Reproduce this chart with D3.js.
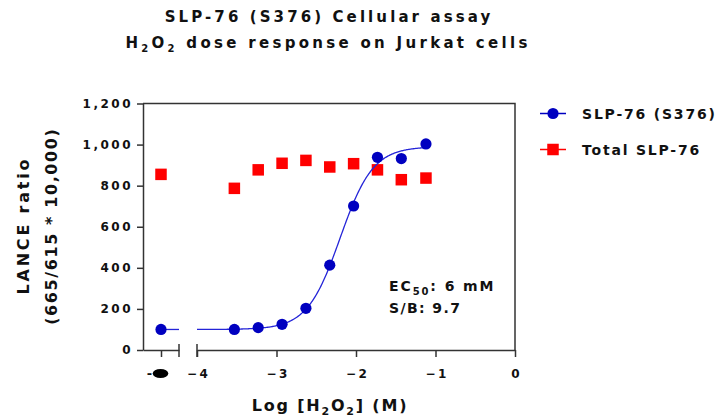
<!DOCTYPE html>
<html><head><meta charset="utf-8">
<script src="https://cdn.jsdelivr.net/npm/d3@7"></script>
<style>
body{margin:0;background:#fff}
svg text{font-family:"DejaVu Sans",Verdana,sans-serif;font-weight:bold;fill:#111}
</style></head><body>
<svg id="c" width="719" height="419"></svg>
<script>
// ---- data ----
const logDose = [-3.53, -3.23, -2.93, -2.63, -2.33, -2.03, -1.73, -1.43, -1.12];
const phospho = [100, 109, 125, 203, 413, 701, 938, 932, 1003];
const total   = [787, 877, 909, 923, 891, 907, 877, 829, 837];
const controlPhospho = 100;
const controlTotal = 855;
const yTicks = [0, 200, 400, 600, 800, 1000, 1200];
const xTicks = [-4, -3, -2, -1, 0];
const fit = {bottom: 100, top: 990, logEC50: -2.2, hill: 2.1};
const seriesNames = ["SLP-76 (S376)", "Total SLP-76"];

const BLUE = "#0000c0", CURVE = "#2424d8", RED = "#ff0000", AX = "#333";
const FONT = '"DejaVu Sans",Verdana,sans-serif';

const svg = d3.select("#c");
const y = d3.scaleLinear().domain([0, 1200]).range([350, 103.5]);
const x = d3.scaleLinear().domain([-4, 0]).range([197, 515]);
const xc = d3.scalePoint().domain(["ctrl"]).range([143, 179]).padding(0.5);

function rich(sel, parts, subSize, subDy) {
  let shifted = false;
  parts.forEach(p => {
    const isSub = typeof p === "object";
    const t = sel.append("tspan").text(isSub ? p.sub : p);
    if (isSub) {
      t.attr("font-size", subSize);
      if (!shifted) { t.attr("dy", subDy); shifted = true; }
    } else if (shifted) { t.attr("dy", -subDy); shifted = false; }
  });
  return sel;
}

// ---- title ----
svg.append("text").attr("x", 329).attr("y", 22).attr("text-anchor", "middle")
  .attr("font-size", 15).attr("letter-spacing", 3.1)
  .text("SLP-76 (S376) Cellular assay");
rich(svg.append("text").attr("x", 328).attr("y", 48).attr("text-anchor", "middle")
  .attr("font-size", 15).attr("letter-spacing", 3.3),
  ["H", {sub: "2"}, "O", {sub: "2"}, " dose response on Jurkat cells"], 10, 4);

// ---- frame ----
svg.append("path").attr("d", `M${xc.range()[0]},${y(1200)}H${x(0)}V${y(0)}`)
  .attr("fill", "none").attr("stroke", AX).attr("stroke-width", 1.5);

// ---- axes ----
const gy = svg.append("g").attr("transform", `translate(${xc.range()[0]},0)`)
  .call(d3.axisLeft(y).tickValues(yTicks).tickFormat(d3.format(",")).tickSize(6).tickSizeOuter(0).tickPadding(4));
const gx = svg.append("g").attr("transform", `translate(0,${y(0)})`)
  .call(d3.axisBottom(x).tickValues(xTicks).tickFormat(d3.format("d")).tickSize(7).tickSizeOuter(0).tickPadding(12));
const gxc = svg.append("g").attr("transform", `translate(0,${y(0)})`)
  .call(d3.axisBottom(xc).tickFormat("").tickSize(7).tickSizeOuter(0));
[gy, gx, gxc].forEach(g => {
  g.selectAll("path,line").attr("stroke", AX).attr("stroke-width", 1.5);
  g.selectAll("text").attr("font-size", 12).attr("letter-spacing", 2.5).attr("fill", "#111")
    .style("font-family", FONT).style("font-weight", "bold");
});
gx.selectAll("text").attr("dx", 1.2);
// axis break ticks
[xc.range()[1], x(-4)].forEach(bx => {
  svg.append("line").attr("x1", bx).attr("x2", bx).attr("y1", y(0) - 6).attr("y2", y(0) + 7)
    .attr("stroke", AX).attr("stroke-width", 1.5);
});
// control tick label
const cx0 = xc("ctrl");
svg.append("text").attr("x", cx0 - 11.5).attr("y", 377.5).attr("text-anchor", "middle")
  .attr("font-size", 13).text("-");
svg.append("ellipse").attr("cx", cx0 - 0.5).attr("cy", 373.5).attr("rx", 7.8).attr("ry", 4.5).attr("fill", "#000");

// ---- axis titles ----
rich(svg.append("text").attr("x", 330).attr("y", 411).attr("text-anchor", "middle")
  .attr("font-size", 16).attr("letter-spacing", 1.8),
  ["Log [H", {sub: "2"}, "O", {sub: "2"}, "] (M)"], 11, 4);
svg.append("text").attr("transform", "translate(28.5,227) rotate(-90)").attr("dx", 1.4)
  .attr("text-anchor", "middle").attr("font-size", 16).attr("letter-spacing", 2.8).text("LANCE ratio");
svg.append("text").attr("transform", "translate(57,227) rotate(-90)").attr("dx", 0.8)
  .attr("text-anchor", "middle").attr("font-size", 16).attr("letter-spacing", 1.6).text("(665/615 * 10,000)");

// ---- data marks ----
const sq = 11.5;
const totalData = logDose.map((d, i) => ({x: x(d), y: y(total[i])}));
totalData.push({x: cx0, y: y(controlTotal)});
svg.append("g").selectAll("rect").data(totalData).join("rect")
  .attr("x", d => d.x - sq / 2).attr("y", d => d.y - sq / 2).attr("width", sq).attr("height", sq)
  .attr("fill", RED);

// fitted curve
const f = v => fit.bottom + (fit.top - fit.bottom) / (1 + Math.pow(10, (fit.logEC50 - v) * fit.hill));
const curvePts = d3.range(-4, logDose[logDose.length - 1] + 0.001, 0.01).map(v => [x(v), y(f(v))]);
svg.append("path").attr("d", d3.line()(curvePts)).attr("fill", "none").attr("stroke", CURVE).attr("stroke-width", 1.3);
svg.append("path").attr("d", d3.line()([[cx0, y(fit.bottom)], [xc.range()[1], y(fit.bottom)]]))
  .attr("fill", "none").attr("stroke", CURVE).attr("stroke-width", 1.3);

const phosData = logDose.map((d, i) => ({x: x(d), y: y(phospho[i])}));
phosData.push({x: cx0, y: y(controlPhospho)});
svg.append("g").selectAll("circle").data(phosData).join("circle")
  .attr("cx", d => d.x).attr("cy", d => d.y).attr("r", 5.6).attr("fill", BLUE);

// ---- annotation ----
rich(svg.append("text").attr("x", 389).attr("y", 290.5).attr("font-size", 14).attr("letter-spacing", 1.9),
  ["EC", {sub: "50"}, ": 6 mM"], 10, 4);
svg.append("text").attr("x", 389).attr("y", 313).attr("font-size", 14).attr("letter-spacing", 1.4).text("S/B: 9.7");

// ---- legend ----
const leg = svg.append("g");
const legRows = [{name: seriesNames[0], color: BLUE, shape: "circle", cy: 113.5},
                 {name: seriesNames[1], color: RED, shape: "square", cy: 149.5}];
legRows.forEach(r => {
  leg.append("line").attr("x1", 540).attr("x2", 566).attr("y1", r.cy).attr("y2", r.cy)
    .attr("stroke", r.color).attr("stroke-width", 1.5);
  if (r.shape === "circle") leg.append("circle").attr("cx", 553).attr("cy", r.cy).attr("r", 5.6).attr("fill", r.color);
  else leg.append("rect").attr("x", 553 - sq / 2).attr("y", r.cy - sq / 2).attr("width", sq).attr("height", sq).attr("fill", r.color);
  leg.append("text").attr("x", 582).attr("y", r.cy + 5.2).attr("font-size", 14).attr("letter-spacing", 1.8).text(r.name);
});
</script>
</body></html>
